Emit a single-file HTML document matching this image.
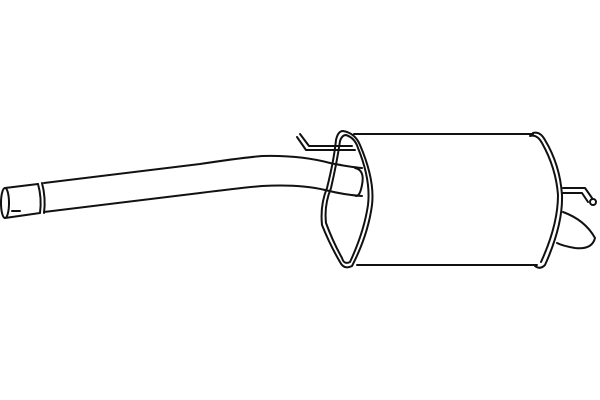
<!DOCTYPE html>
<html><head><style>html,body{margin:0;padding:0;background:#fff}svg{display:block}</style></head>
<body>
<svg width="600" height="400" viewBox="0 0 600 400" xmlns="http://www.w3.org/2000/svg" fill="none" stroke="#111" stroke-width="2" stroke-linejoin="round" stroke-linecap="round">
<!-- left tube -->
<ellipse cx="5" cy="203" rx="4" ry="15" fill="#fff"/>
<path d="M5 188 L38 184 M5 218 L40 213"/>
<path d="M38 184 Q42 198 40 213 M42 183 Q46 198 44 213"/>
<path d="M44 183 L200 164 Q240 158 262 156 Q300 155 330 163 Q350 167 362 168"/>
<path d="M44 212 L200 193 Q240 188 262 186 Q300 184 325 190 Q345 195 362 196"/>
<path d="M12 211 L20 211"/>
<!-- hanger left -->
<path d="M297 137 L306 150 L355 150 M300 134 L309 146 L352 146"/>
<!-- muffler body -->
<path d="M354 134 L533 134 M357 265 L537 265"/>
<!-- left cap -->
<path d="M343 131 Q355 133 360 145 Q375 180 372 205 Q368 235 352 266 Q344 270 340 262 Q330 245 322 225 Q320 205 327 188 Q334 160 336 140 Q338 131 343 131 Z"/>
<path d="M346 135 Q355 138 358 148 Q371 180 368 205 Q364 232 350 262 Q344 265 342 258 Q333 242 326 223 Q324 205 331 188 Q337 162 340 141 Q342 135 346 135 Z"/>
<!-- inlet pipe end -->
<path d="M355 168 Q365 170 362 185 Q360 196 356 196"/>
<!-- right cap -->
<path d="M533 133 Q540 131 545 140 Q560 165 562 195 Q563 225 545 265 Q540 270 535 266"/>
<path d="M530 136 Q537 134 542 143 Q556 168 558 195 Q558 225 541 262"/>
<!-- right hanger -->
<path d="M563 188 L585 188 L592 198 M563 193 L582 193 L588 202"/>
<circle cx="593" cy="202" r="3"/>
<!-- tailpipe -->
<path d="M563 212 Q585 220 595 238 Q592 250 575 248 Q563 246 557 243"/>
</svg>
</body></html>
